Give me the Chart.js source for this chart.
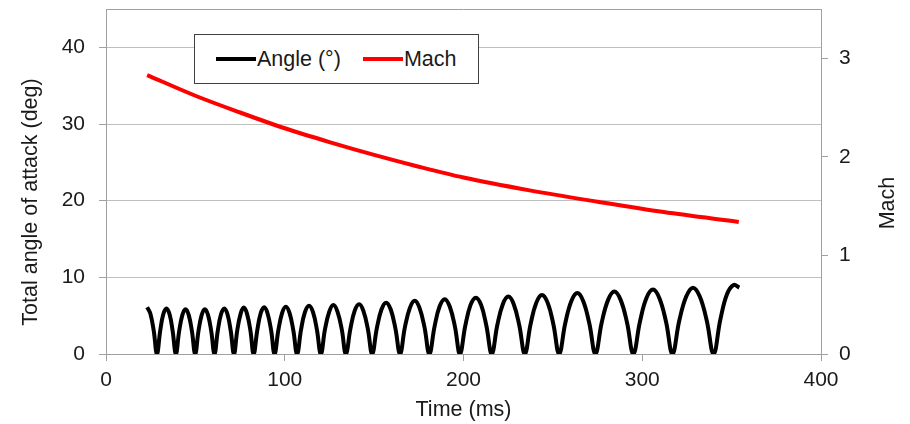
<!DOCTYPE html>
<html>
<head>
<meta charset="utf-8">
<script src="https://cdn.jsdelivr.net/npm/chart.js@4.4.1/dist/chart.umd.min.js"></script>
<style>
  html, body { margin: 0; padding: 0; background: #fff; }
  #wrap { position: relative; width: 910px; height: 424px; }
  #legend {
    position: absolute; left: 194px; top: 34px; width: 285px; height: 50px;
    box-sizing: border-box; border: 1px solid #404040; background: #fff;
    display: flex; align-items: center; padding-left: 21px; white-space: nowrap;
    font: 21.5px 'Liberation Sans', Arial, sans-serif; color: #1a1a1a;
  }
  #legend .item { display: flex; align-items: center; flex: none; margin-right: 22px; }
  #legend .swatch { display: inline-block; width: 40px; height: 4px; margin-right: 1px; }
</style>
</head>
<body>
<div id="wrap">
  <canvas id="chart" width="910" height="424"></canvas>
  <div id="legend"></div>
</div>
<script>
// Angle series: time (ms) and total angle of attack (deg)
const angleTime = [
  23.0, 24.8, 26.7,
  28.5, 30.3, 32.0, 33.8, 35.6, 37.3,
  39.1, 40.9, 42.7, 44.5, 46.3, 48.1,
  49.9, 51.7, 53.5, 55.3, 57.1, 58.9,
  60.7, 62.5, 64.3, 66.2, 68.0, 69.8,
  71.6, 73.4, 75.3, 77.1, 78.9, 80.8,
  82.6, 84.6, 86.5, 88.5, 90.4, 92.4,
  94.3, 96.4, 98.5, 100.6, 102.7, 104.8,
  106.9, 109.1, 111.3, 113.6, 115.8, 118.0,
  120.2, 122.5, 124.9, 127.2, 129.5, 131.9,
  134.2, 136.7, 139.1, 141.6, 144.0, 146.5,
  148.9, 151.5, 154.1, 156.7, 159.3, 161.9,
  164.5, 167.2, 170.0, 172.7, 175.4, 178.2,
  180.9, 183.8, 186.6, 189.5, 192.3, 195.2,
  198.0, 201.0, 203.9, 206.9, 209.9, 212.8,
  215.8, 218.9, 222.0, 225.1, 228.1, 231.2,
  234.3, 237.5, 240.7, 243.9, 247.1, 250.3,
  253.5, 256.9, 260.3, 263.7, 267.0, 270.4,
  273.8, 277.3, 280.9, 284.4, 287.9, 291.5,
  295.0, 298.7, 302.3, 306.0, 309.6, 313.3,
  316.9, 320.7, 324.6, 328.4, 332.2, 336.1,
  339.9, 343.7, 347.4, 351.1, 354.3
];
const angleValue = [
  6.1, 5.28, 3.05,
  0, 2.98, 5.15, 5.95, 5.15, 2.98,
  0, 2.93, 5.07, 5.85, 5.07, 2.93,
  0, 2.93, 5.07, 5.85, 5.07, 2.93,
  0, 2.98, 5.15, 5.95, 5.15, 2.98,
  0, 3.03, 5.24, 6.05, 5.24, 3.03,
  0, 3.05, 5.28, 6.1, 5.28, 3.05,
  0, 3.08, 5.33, 6.15, 5.33, 3.08,
  0, 3.15, 5.46, 6.3, 5.46, 3.15,
  0, 3.2, 5.54, 6.4, 5.54, 3.2,
  0, 3.25, 5.63, 6.5, 5.63, 3.25,
  0, 3.35, 5.8, 6.7, 5.8, 3.35,
  0, 3.48, 6.02, 6.95, 6.02, 3.48,
  0, 3.58, 6.19, 7.15, 6.19, 3.58,
  0, 3.68, 6.37, 7.35, 6.37, 3.68,
  0, 3.75, 6.5, 7.5, 6.5, 3.75,
  0, 3.85, 6.67, 7.7, 6.67, 3.85,
  0, 3.98, 6.88, 7.95, 6.88, 3.98,
  0, 4.08, 7.06, 8.15, 7.06, 4.08,
  0, 4.2, 7.27, 8.4, 7.27, 4.2,
  0, 4.33, 7.49, 8.65, 7.49, 4.33,
  0, 4.5, 7.79, 9.0, 8.65
];

// Mach series (right axis)
const machTime = [23, 50, 75, 100, 125, 150, 175, 200, 237, 275, 312, 354];
const machValue = [2.83, 2.62, 2.45, 2.29, 2.15, 2.02, 1.90, 1.79, 1.66, 1.545, 1.44, 1.34];

const seriesLabels = ['Angle (°)', 'Mach'];
const xTitle = 'Time (ms)';
const yTitle = 'Total angle of attack (deg)';
const y1Title = 'Mach';

const textColor = '#1a1a1a';
const axisColor = '#a0a0a0';
const gridColor = '#bfbfbf';
const fontFamily = "'Liberation Sans', Arial, sans-serif";

Chart.defaults.font.family = fontFamily;
Chart.defaults.font.size = 21;
Chart.defaults.color = textColor;

function toPoints(xs, ys) {
    return xs.map((x, i) => ({ x: x, y: ys[i] }));
}

// draws the plot-area top edge and the two vertical axis titles
const frameAndTitles = {
    id: 'frameAndTitles',
    afterDraw(chart) {
        const ctx = chart.ctx;
        const a = chart.chartArea;
        ctx.save();
        ctx.strokeStyle = axisColor;
        ctx.lineWidth = 1;
        ctx.beginPath();
        ctx.moveTo(a.left, a.top + 0.5);
        ctx.lineTo(a.right, a.top + 0.5);
        ctx.stroke();

        ctx.fillStyle = textColor;
        ctx.font = '21.5px ' + fontFamily;
        ctx.textAlign = 'center';
        ctx.textBaseline = 'middle';

        ctx.save();
        ctx.translate(31, 202);
        ctx.rotate(-Math.PI / 2);
        ctx.fillText(yTitle, 0, 0);
        ctx.restore();

        ctx.save();
        ctx.translate(888, 203);
        ctx.rotate(-Math.PI / 2);
        ctx.fillText(y1Title, 0, 0);
        ctx.restore();

        ctx.restore();
    }
};

const chart = new Chart(document.getElementById('chart').getContext('2d'), {
    type: 'line',
    data: {
        datasets: [
            {
                label: seriesLabels[0],
                data: toPoints(angleTime, angleValue),
                borderColor: '#000000',
                backgroundColor: '#000000',
                borderWidth: 4,
                pointRadius: 0,
                tension: 0.4,
                yAxisID: 'y'
            },
            {
                label: seriesLabels[1],
                data: toPoints(machTime, machValue),
                borderColor: '#ff0000',
                backgroundColor: '#ff0000',
                borderWidth: 4,
                pointRadius: 0,
                cubicInterpolationMode: 'monotone',
                yAxisID: 'y1'
            }
        ]
    },
    options: {
        responsive: false,
        animation: false,
        layout: { padding: { top: 9, left: 0, right: 0, bottom: 0 } },
        plugins: {
            legend: { display: false },
            tooltip: { enabled: false }
        },
        scales: {
            x: {
                type: 'linear',
                min: 0,
                max: 400,
                ticks: { stepSize: 100, padding: 7 },
                grid: { drawOnChartArea: false, tickLength: 7, tickColor: axisColor },
                border: { color: axisColor },
                title: {
                    display: true,
                    text: xTitle,
                    font: { size: 21.5 },
                    padding: { top: 0, bottom: 1 }
                },
                afterFit(s) { s.height = 70; }
            },
            y: {
                position: 'left',
                min: 0,
                max: 45,
                ticks: { stepSize: 10, includeBounds: false, padding: 14 },
                grid: { color: gridColor, tickLength: 7, tickColor: axisColor },
                border: { color: axisColor },
                afterFit(s) { s.width = 106; s.paddingTop = 0; s.paddingBottom = 0; }
            },
            y1: {
                position: 'right',
                min: 0,
                max: 3.5,
                ticks: { stepSize: 1, includeBounds: false, padding: 11 },
                grid: { drawOnChartArea: false, tickLength: 7, tickColor: axisColor },
                border: { color: axisColor },
                afterFit(s) { s.width = 89; s.paddingTop = 0; s.paddingBottom = 0; }
            }
        }
    },
    plugins: [frameAndTitles]
});

// html legend inside the plot area
const legend = document.getElementById('legend');
chart.data.datasets.forEach(ds => {
    const item = document.createElement('span');
    item.className = 'item';
    const sw = document.createElement('span');
    sw.className = 'swatch';
    sw.style.background = ds.borderColor;
    const txt = document.createElement('span');
    txt.textContent = ds.label;
    item.appendChild(sw);
    item.appendChild(txt);
    legend.appendChild(item);
});
</script>
</body>
</html>
